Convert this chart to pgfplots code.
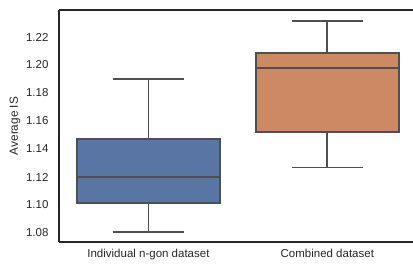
\documentclass[border=0pt]{standalone}
\usepackage{pgfplots}
\pgfplotsset{compat=1.18}
\usepgfplotslibrary{statistics}
\usepackage{fontspec}
\setmainfont{Liberation Sans}
\definecolor{sbblue}{HTML}{5975A4}
\definecolor{sborange}{HTML}{CC8963}
\definecolor{sbline}{HTML}{4F4F4F}
\definecolor{spine}{HTML}{262626}
\pgfplotsset{
  boxplot/every median/.style={draw=sbline, line width=1.8pt},
  boxplot/every whisker/.style={draw=sbline, line width=1.8pt},
  boxplot/every box/.style={draw=sbline, line width=1.8pt},
}
\begin{document}
\begin{tikzpicture}
\begin{axis}[
  name=ax,
  scale only axis,
  width=354pt, height=232pt,
  xmin=-0.5, xmax=1.479,
  ymin=1.0736, ymax=1.2393,
  axis x line=box, axis y line=left,
  axis line style={-, draw=spine, line width=1.25pt},
  major tick length=0pt,
  xtick={0,1},
  xticklabels={Individual n-gon dataset, Combined dataset},
  ytick={1.08,1.10,1.12,1.14,1.16,1.18,1.20,1.22},
  yticklabel style={/pgf/number format/fixed, /pgf/number format/fixed zerofill, /pgf/number format/precision=2, xshift=-7pt},
  /pgf/number format/assume math mode=true,
  xticklabel style={yshift=-4pt},
  tick label style={font=\fontsize{11.5}{13}\selectfont, text=spine},
  ylabel={Average IS},
  every axis y label/.style={at={(axis description cs:-0.1243,0.5)}, rotate=90, anchor=center, font=\fontsize{11.8}{13}\selectfont, text=spine},
  boxplot/draw direction=y,
  clip=false,
]
\addplot+[mark=none, fill=sbblue, draw=sbline, line width=1.8pt, solid, boxplot prepared={lower whisker=1.081, lower quartile=1.1012, median=1.1202, upper quartile=1.1471, upper whisker=1.1902, draw position=0, box extend=0.8, whisker extend=0.4}] coordinates {};
\addplot+[mark=none, fill=sborange, draw=sbline, line width=1.8pt, solid, boxplot prepared={lower whisker=1.1268, lower quartile=1.1520, median=1.1976, upper quartile=1.2088, upper whisker=1.2316, draw position=1, box extend=0.8, whisker extend=0.4}] coordinates {};
\end{axis}
\pgfresetboundingbox
\path[use as bounding box] ([shift={(-59pt,-22pt)}]ax.south west) rectangle ([shift={(0pt,10pt)}]ax.north east);
\end{tikzpicture}
\end{document}
